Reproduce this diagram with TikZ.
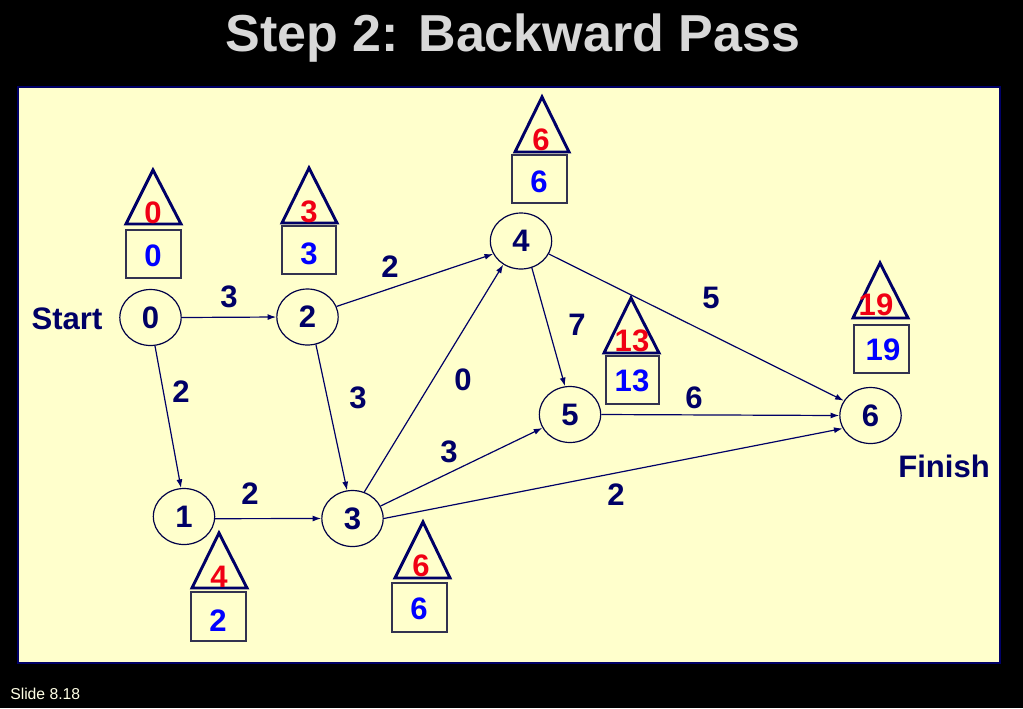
\documentclass[tikz,border=0pt]{standalone}
\usepackage{fontspec}
\setmainfont{Liberation Sans}
\usetikzlibrary{shapes.geometric,arrows.meta}
\definecolor{navy}{RGB}{0,0,102}
\definecolor{panel}{RGB}{255,255,204}
\definecolor{ttl}{RGB}{216,216,216}
\definecolor{myred}{RGB}{240,0,20}
\definecolor{myblue}{RGB}{0,0,255}
\definecolor{boxline}{RGB}{50,50,80}
\definecolor{cream}{RGB}{255,255,230}
\tikzset{
  ev/.style={ellipse, draw=navy!70!black, line width=0.9pt, minimum width=46pt, minimum height=42pt, inner sep=0pt, font=\fontsize{23.3}{27}\selectfont\bfseries, text=navy},
  lbl/.style={inner sep=0pt, font=\fontsize{23.3}{27}\selectfont\bfseries, text=navy},
  lsnum/.style={inner sep=0pt, font=\fontsize{23.3}{27}\selectfont\bfseries, text=myred},
  esnum/.style={inner sep=0pt, font=\fontsize{23.3}{27}\selectfont\bfseries, text=myblue},
  tri/.style={draw=navy, line width=2.2pt, line join=miter},
  bx/.style={draw=boxline, line width=1.1pt},
  edge/.style={draw=navy, line width=0.9pt, -{Latex[length=6.5pt,width=4.5pt]}}
}
\begin{document}
\begin{tikzpicture}[x=0.75pt,y=-0.75pt]
\useasboundingbox (0,0) rectangle (1023,708);
\fill[black] (0,0) rectangle (1023,708);
\filldraw[fill=panel, draw=navy, line width=1.1pt] (18,87) rectangle (1000,663);

\node[anchor=base, inner sep=0pt, text=ttl, font=\fontsize{39}{44}\selectfont\bfseries] (title) at (513,51.5) {Step 2: Backward Pass};
\node[anchor=base west, inner sep=0pt, text=cream, font=\fontsize{11.8}{13}\selectfont] (slide) at (10,699) {Slide 8.18};

% event nodes
\node[ev] (n0) at (150.5,317.5) {0};
\node[ev] (n2) at (307.5,317) {2};
\node[ev] (n4) at (521,241) {4};
\node[ev] (n5) at (570,414.5) {5};
\node[ev] (n6) at (870.5,415.5) {6};
\node[ev] (n1) at (184,516.5) {1};
\node[ev] (n3) at (352.5,518.5) {3};

\node[lbl] (start) at (67,319) {Start};
\node[lbl] (finish) at (944,466) {Finish};

% edges
\draw[edge] (n0.0) -- (n2.180);
\draw[edge] (n0.279) -- (n1.96);
\draw[edge] (n2.20) -- (n4.205);
\draw[edge] (n2.287) -- (n3.101);
\draw[edge] (n1.-4) -- (n3.180);
\draw[edge] (n3.66) -- (n4.233);
\draw[edge] (n3.24) -- (n5.206);
\draw[edge] (n3.0) -- (n6.205);
\draw[edge] (n4.292) -- (n5.100);
\draw[edge] (n4.335) -- (n6.151);
\draw[edge] (n5.0) -- (n6.180);

% edge labels
\node[lbl] (l02) at (229,297) {3};
\node[lbl] (l01) at (181,392) {2};
\node[lbl] (l24) at (390,267) {2};
\node[lbl] (l23) at (358,398) {3};
\node[lbl] (l13) at (250,494) {2};
\node[lbl] (l34) at (463,380) {0};
\node[lbl] (l35) at (449,452) {3};
\node[lbl] (l36) at (616,495) {2};
\node[lbl] (l45) at (577,325) {7};
\node[lbl] (l46) at (711,298) {5};
\node[lbl] (l56) at (694,398) {6};

% node 0 markers
\draw[tri] (153,170) -- (181,224) -- (126,224) -- cycle;
\draw[bx] (126,230) rectangle (181,278);
\node[lsnum] (ls0) at (153,213) {0};
\node[esnum] (es0) at (153,256) {0};

% node 2 markers
\draw[tri] (309,168) -- (337,223) -- (282,223) -- cycle;
\draw[bx] (282,226) rectangle (336,274);
\node[lsnum] (ls2) at (309,212) {3};
\node[esnum] (es2) at (309,254) {3};

% node 4 markers
\draw[tri] (542,97) -- (569,152) -- (515,152) -- cycle;
\draw[bx] (512,155) rectangle (567,203);
\node[lsnum] (ls4) at (541,140) {6};
\node[esnum] (es4) at (539,182) {6};

% node 5 markers
\draw[tri] (631,298) -- (659,353) -- (604,353) -- cycle;
\draw[bx] (606,356) rectangle (659,404);
\node[lsnum] (ls5) at (632,341) {13};
\node[esnum] (es5) at (632,381) {13};

% node 6 markers
\draw[tri] (880,263) -- (908,318) -- (853,318) -- cycle;
\draw[bx] (854,325) rectangle (909,373);
\node[lsnum] (ls6) at (876,305) {19};
\node[esnum] (es6) at (883,350) {19};

% node 1 markers
\draw[tri] (219,533) -- (247,588) -- (192,588) -- cycle;
\draw[bx] (191,592) rectangle (246,641);
\node[lsnum] (ls1) at (219,577) {4};
\node[esnum] (es1) at (218,621) {2};

% node 3 markers
\draw[tri] (423,522) -- (450,578) -- (395,578) -- cycle;
\draw[bx] (392,583) rectangle (447,632);
\node[lsnum] (ls3) at (421,566) {6};
\node[esnum] (es3) at (419,609) {6};
\end{tikzpicture}
\end{document}
